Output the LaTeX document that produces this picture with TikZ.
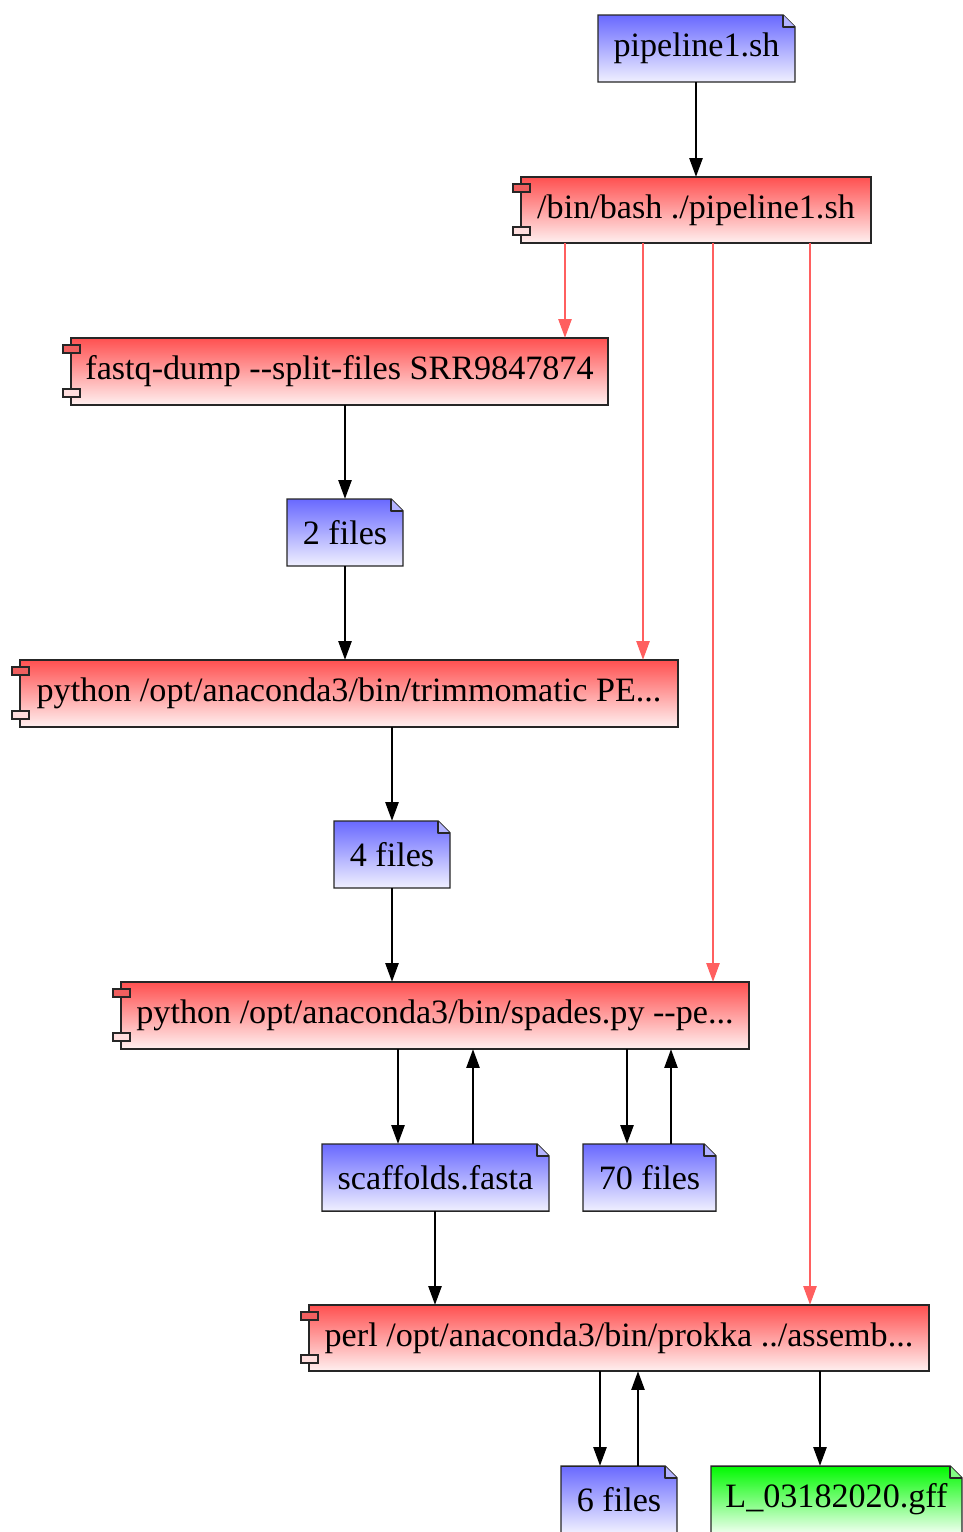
\documentclass[tikz,border=0pt]{standalone}
\usepackage{fontspec}
\setmainfont{Liberation Serif}
\usetikzlibrary{arrows.meta}

\definecolor{redtop}{RGB}{255,80,80}
\definecolor{redbot}{RGB}{255,240,240}
\definecolor{bluetop}{RGB}{105,105,255}
\definecolor{bluebot}{RGB}{240,240,255}
\definecolor{greentop}{RGB}{0,250,0}
\definecolor{greenbot}{RGB}{238,255,238}
\definecolor{edgered}{RGB}{255,95,95}
\definecolor{tabtop}{RGB}{240,95,95}
\definecolor{tabbot}{RGB}{255,222,222}

\tikzset{
  boxline/.style={draw=black!85, line width=1.1pt},
  txt/.style={font=\fontsize{25.6}{30}\selectfont, inner sep=0pt, draw=none},
  flow/.style={draw=black, line width=1.1pt, -{Triangle[length=14pt,width=10pt]}},
  call/.style={flow, draw=edgered},
}

% file box: name, x1, y1, x2, y2, text, top colour, bottom colour
\newcommand\filebox[8]{%
  \path[boxline, top color=#7, bottom color=#8, line join=miter]
    (#2,#3) -- ({#4-12},#3) -- (#4,{#3+12}) -- (#4,#5) -- (#2,#5) -- cycle;
  \path[boxline, fill=#7!45!#8, line join=round]
    ({#4-12},#3) -- ({#4-12},{#3+12}) -- (#4,{#3+12});
  \pgfmathsetmacro\bw{(#4-#2)*0.75}%
  \pgfmathsetmacro\bh{(#5-#3)*0.75}%
  \node[txt, minimum width=\bw pt, minimum height=\bh pt] (#1)
    at ({(#2+#4)/2},{(#3+#5)/2}) {#6};
}

% process box: name, x1, y1, x2, y2, text
\newcommand\procbox[6]{%
  \path[boxline, top color=redtop, bottom color=redbot] (#2,#3) rectangle (#4,#5);
  \path[boxline, fill=tabtop] ({#2-8},{#3+7}) rectangle ({#2+9},{#3+15});
  \path[boxline, fill=tabbot] ({#2-8},{#5-16}) rectangle ({#2+9},{#5-8});
  \pgfmathsetmacro\bw{(#4-#2)*0.75}%
  \pgfmathsetmacro\bh{(#5-#3)*0.75}%
  \node[txt, minimum width=\bw pt, minimum height=\bh pt] (#1)
    at ({(#2+#4)/2},{(#3+#5)/2}) {#6};
}

\begin{document}
\begin{tikzpicture}[x=0.75pt, y=-0.75pt]
\useasboundingbox (0,0) rectangle (963,1532);

% boxes
\filebox{src}{598}{15}{795}{82}{pipeline1.sh}{bluetop}{bluebot}
\procbox{bash}{521}{177}{871}{243}{/bin/bash ./pipeline1.sh}
\procbox{fastq}{71}{338}{608}{405}{fastq-dump -{}-split-files SRR9847874}
\filebox{f2}{287}{499}{403}{566}{2 files}{bluetop}{bluebot}
\procbox{trim}{20}{660}{678}{727}{python /opt/anaconda3/bin/trimmomatic PE...}
\filebox{f4}{334}{821}{450}{888}{4 files}{bluetop}{bluebot}
\procbox{spades}{121}{982}{749}{1049}{python /opt/anaconda3/bin/spades.py -{}-pe...}
\filebox{scaf}{322}{1144}{549}{1211}{scaffolds.fasta}{bluetop}{bluebot}
\filebox{f70}{583}{1144}{716}{1211}{70 files}{bluetop}{bluebot}
\procbox{prokka}{309}{1305}{929}{1371}{perl /opt/anaconda3/bin/prokka ../assemb...}
\filebox{f6}{561}{1466}{677}{1533}{6 files}{bluetop}{bluebot}
\filebox{gff}{711}{1466}{962}{1533}{L\_03182020.gff}{greentop}{greenbot}

% connector columns
\foreach \c in {345,392,398,435,473,565,600,627,638,643,671,696,713,810,820}
  \coordinate (x\c) at (\c,0);

% data flow
\draw[flow] (src.south -| x696) -- (bash.north -| x696);
\draw[flow] (fastq.south -| x345) -- (f2.north -| x345);
\draw[flow] (f2.south -| x345) -- (trim.north -| x345);
\draw[flow] (trim.south -| x392) -- (f4.north -| x392);
\draw[flow] (f4.south -| x392) -- (spades.north -| x392);
\draw[flow] (spades.south -| x398) -- (scaf.north -| x398);
\draw[flow] (scaf.north -| x473) -- (spades.south -| x473);
\draw[flow] (spades.south -| x627) -- (f70.north -| x627);
\draw[flow] (f70.north -| x671) -- (spades.south -| x671);
\draw[flow] (scaf.south -| x435) -- (prokka.north -| x435);
\draw[flow] (prokka.south -| x600) -- (f6.north -| x600);
\draw[flow] (f6.north -| x638) -- (prokka.south -| x638);
\draw[flow] (prokka.south -| x820) -- (gff.north -| x820);

% calls from the shell script
\draw[call] (bash.south -| x565) -- (fastq.north -| x565);
\draw[call] (bash.south -| x643) -- (trim.north -| x643);
\draw[call] (bash.south -| x713) -- (spades.north -| x713);
\draw[call] (bash.south -| x810) -- (prokka.north -| x810);
\end{tikzpicture}
\end{document}
